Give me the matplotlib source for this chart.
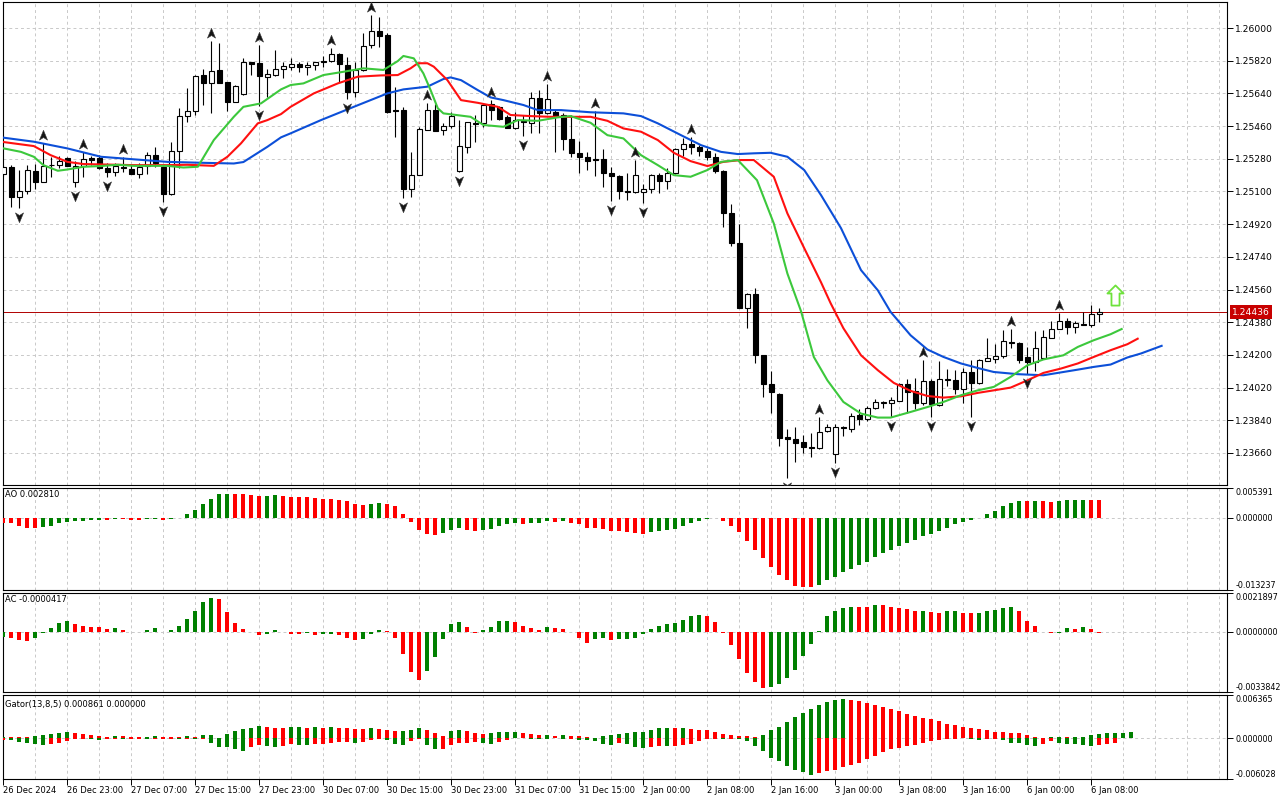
import numpy as np
import matplotlib
matplotlib.use("Agg")
import matplotlib.pyplot as plt
from matplotlib.path import Path
from matplotlib.transforms import offset_copy, blended_transform_factory

plt.rcParams['font.family'] = ['DejaVu Sans']

# ---------------- data (EURUSD-like H1 candles) ----------------
opens = [1.25196,1.25234,1.25069,1.25102,1.25212,1.25151,1.25248,1.25245,1.25284,1.25151,
         1.25240,1.25282,1.25284,1.25229,1.25207,1.25236,1.25223,1.25196,1.25240,1.25300,
         1.25234,1.25085,1.25322,1.25515,1.25543,1.25741,1.25697,1.25769,1.25702,1.25592,
         1.25636,1.25813,1.25807,1.25730,1.25741,1.25774,1.25785,1.25802,1.25785,1.25796,
         1.25818,1.25818,1.25857,1.25796,1.25647,1.25769,1.25906,1.25983,1.25961,1.25548,
         1.25548,1.25113,1.25190,1.25438,1.25548,1.25438,1.25460,1.25212,1.25344,1.25477,
         1.25477,1.25581,1.25565,1.25510,1.25449,1.25488,1.25477,1.25614,1.25532,1.25539,
         1.25521,1.25388,1.25311,1.25289,1.25278,1.25278,1.25201,1.25185,1.25102,1.25096,
         1.25096,1.25113,1.25190,1.25157,1.25201,1.25333,1.25361,1.25344,1.25322,1.25289,
         1.25212,1.24981,1.24815,1.24457,1.24534,1.24198,1.24038,1.23983,1.23746,1.23735,
         1.23719,1.23691,1.23686,1.23779,1.23653,1.23803,1.23790,1.23868,1.23846,1.23906,
         1.23934,1.23934,1.23945,1.24038,1.24000,1.23934,1.24055,1.23923,1.24060,1.24060,
         1.24011,1.24105,1.24044,1.24165,1.24176,1.24193,1.24270,1.24264,1.24187,1.24160,
         1.24182,1.24292,1.24341,1.24386,1.24353,1.24369,1.24364,1.24424]
highs = [1.25245,1.25245,1.25218,1.25245,1.25251,1.25366,1.25289,1.25295,1.25291,1.25267,
         1.25317,1.25295,1.25300,1.25256,1.25256,1.25289,1.25245,1.25256,1.25317,1.25344,
         1.25240,1.25372,1.25559,1.25669,1.25741,1.25774,1.25928,1.25917,1.25702,1.25686,
         1.25835,1.25813,1.25906,1.25774,1.25879,1.25813,1.25835,1.25813,1.25813,1.25814,
         1.25846,1.25890,1.25862,1.25840,1.25813,1.25972,1.26072,1.26061,1.25972,1.25675,
         1.25565,1.25317,1.25455,1.25587,1.25581,1.25477,1.25537,1.25493,1.25482,1.25521,
         1.25576,1.25603,1.25570,1.25521,1.25537,1.25521,1.25647,1.25658,1.25691,1.25548,
         1.25532,1.25521,1.25377,1.25317,1.25543,1.25333,1.25234,1.25190,1.25201,1.25273,
         1.25140,1.25196,1.25201,1.25229,1.25339,1.25394,1.25399,1.25355,1.25339,1.25311,
         1.25218,1.25030,1.24920,1.24540,1.24567,1.24198,1.24110,1.23989,1.23790,1.23802,
         1.23757,1.23768,1.23857,1.23818,1.23818,1.23807,1.23879,1.23901,1.23917,1.23956,
         1.23945,1.23967,1.24044,1.24066,1.24071,1.24171,1.24066,1.24165,1.24121,1.24116,
         1.24127,1.24171,1.24176,1.24292,1.24259,1.24336,1.24341,1.24270,1.24242,1.24330,
         1.24336,1.24386,1.24430,1.24402,1.24386,1.24435,1.24474,1.24457]
lows = [1.25185,1.25014,1.25008,1.25085,1.25113,1.25151,1.25179,1.25229,1.25240,1.25124,
        1.25179,1.25245,1.25223,1.25179,1.25185,1.25207,1.25196,1.25174,1.25196,1.25234,
        1.25041,1.25080,1.25229,1.25482,1.25521,1.25576,1.25532,1.25697,1.25543,1.25592,
        1.25631,1.25741,1.25570,1.25620,1.25736,1.25725,1.25769,1.25758,1.25741,1.25769,
        1.25785,1.25813,1.25702,1.25609,1.25620,1.25763,1.25890,1.25895,1.25532,1.25399,
        1.25063,1.25069,1.25190,1.25438,1.25432,1.25410,1.25449,1.25207,1.25311,1.25372,
        1.25455,1.25493,1.25493,1.25449,1.25444,1.25405,1.25421,1.25421,1.25526,1.25318,
        1.25328,1.25289,1.25201,1.25218,1.25185,1.25124,1.25047,1.25058,1.25052,1.25091,
        1.25036,1.25091,1.25091,1.25113,1.25196,1.25295,1.25306,1.25295,1.25273,1.25201,
        1.24904,1.24799,1.24457,1.24347,1.24154,1.23967,1.23879,1.23697,1.23520,1.23609,
        1.23658,1.23636,1.23680,1.23774,1.23603,1.23752,1.23774,1.23813,1.23835,1.23901,
        1.23906,1.23857,1.23945,1.23879,1.23901,1.23923,1.23857,1.23917,1.24027,1.23983,
        1.23934,1.23857,1.24038,1.24165,1.24154,1.24182,1.24237,1.24154,1.24094,1.24110,
        1.24182,1.24292,1.24341,1.24314,1.24319,1.24364,1.24353,1.24380]
closes = [1.25234,1.25069,1.25102,1.25218,1.25151,1.25240,1.25245,1.25267,1.25240,1.25240,
          1.25278,1.25274,1.25229,1.25207,1.25240,1.25227,1.25196,1.25234,1.25300,1.25256,
          1.25085,1.25322,1.25515,1.25543,1.25736,1.25697,1.25763,1.25697,1.25592,1.25680,
          1.25813,1.25802,1.25736,1.25747,1.25774,1.25791,1.25802,1.25785,1.25796,1.25813,
          1.25813,1.25857,1.25802,1.25647,1.25769,1.25901,1.25983,1.25956,1.25537,1.25543,
          1.25113,1.25190,1.25444,1.25548,1.25432,1.25460,1.25515,1.25350,1.25482,1.25471,
          1.25574,1.25548,1.25499,1.25449,1.25493,1.25482,1.25614,1.25532,1.25609,1.25517,
          1.25388,1.25311,1.25289,1.25267,1.25273,1.25201,1.25185,1.25102,1.25096,1.25190,
          1.25113,1.25190,1.25157,1.25201,1.25333,1.25361,1.25344,1.25322,1.25289,1.25212,
          1.24981,1.24815,1.24457,1.24534,1.24198,1.24038,1.23994,1.23741,1.23735,1.23713,
          1.23691,1.23686,1.23774,1.23802,1.23802,1.23800,1.23862,1.23846,1.23906,1.23939,
          1.23939,1.23950,1.24038,1.23994,1.23934,1.24055,1.23928,1.24066,1.24066,1.24011,
          1.24105,1.24044,1.24171,1.24182,1.24193,1.24275,1.24264,1.24171,1.24160,1.24237,
          1.24297,1.24341,1.24386,1.24353,1.24375,1.24364,1.24424,1.24436]

# Alligator lines (bar position, price)
jaw_x = [-0.3,3.8,8.0,12.2,16.3,20.5,24.7,28.8,30.0,33.0,34.7,35.9,39.7,43.8,48.0,50.0,53.0,55.0,55.9,57.2,
         59.3,60.9,62.5,65.0,66.8,69.7,73.4,77.5,79.7,81.8,84.7,87.2,89.7,91.8,93.8,95.9,98.0,100.1,102.2,104.7,
         107.2,109.3,110.9,113.4,115.5,117.5,119.7,121.8,123.8,126.8,130.0,132.5,134.3,136.3,138.4,140.5,142.2,144.9]
jaw_y = [1.25398,1.25374,1.25337,1.25291,1.25277,1.25263,1.25258,1.25254,1.25262,1.25346,1.25398,1.25420,1.25493,
         1.25566,1.25640,1.25662,1.25677,1.25719,1.25728,1.25713,1.25658,1.25618,1.25603,1.25576,1.25548,1.25548,
         1.25536,1.25530,1.25515,1.25475,1.25410,1.25355,1.25318,1.25306,1.25310,1.25313,1.25291,1.25218,1.25080,
         1.24898,1.24667,1.24556,1.24437,1.24308,1.24230,1.24189,1.24153,1.24128,1.24106,1.24094,1.24088,1.24106,
         1.24119,1.24134,1.24147,1.24186,1.24208,1.24252]
teeth_x = [-0.3,3.8,5.9,8.0,10.0,16.3,20.5,23.0,26.3,28.0,29.7,31.8,33.0,34.7,35.9,38.8,41.8,44.3,47.2,49.3,
           50.9,51.8,53.0,53.8,55.5,57.2,59.3,61.8,63.4,65.9,68.4,73.4,75.5,77.5,79.7,81.8,83.8,85.9,88.0,90.0,
           92.2,93.8,96.3,98.0,100.1,102.2,103.4,105.0,107.2,109.3,111.3,113.4,115.5,117.5,119.7,121.8,123.8,
           125.9,128.0,130.0,132.2,134.3,136.3,138.4,140.5,141.9]
teeth_y = [1.25374,1.25350,1.25300,1.25263,1.25251,1.25245,1.25245,1.25247,1.25241,1.25291,1.25365,1.25475,
           1.25493,1.25526,1.25566,1.25640,1.25695,1.25732,1.25739,1.25741,1.25778,1.25806,1.25806,1.25787,
           1.25713,1.25603,1.25588,1.25566,1.25521,1.25515,1.25511,1.25511,1.25489,1.25447,1.25429,1.25383,
           1.25313,1.25267,1.25240,1.25263,1.25273,1.25273,1.25181,1.24979,1.24788,1.24600,1.24485,1.24347,
           1.24198,1.24116,1.24046,1.24002,1.23974,1.23965,1.23972,1.23991,1.24005,1.24020,1.24060,1.24101,
           1.24125,1.24153,1.24189,1.24226,1.24259,1.24292]
lips_x = [-0.3,2.2,3.8,5.0,6.8,8.0,10.0,12.2,14.3,16.3,20.5,22.5,24.3,26.3,28.8,30.0,32.2,34.7,35.9,37.5,
          40.0,42.5,45.0,47.5,49.3,50.0,51.3,52.5,53.4,54.3,55.0,58.4,60.0,62.5,64.3,66.8,69.3,70.9,73.4,75.5,
          77.5,79.7,81.8,83.8,85.9,88.0,89.7,91.8,94.2,96.3,98.0,99.7,101.3,103.0,105.0,107.2,109.3,110.9,113.4,
          115.5,117.5,119.7,121.8,123.8,125.9,128.0,130.0,132.5,134.3,136.3,138.4,139.9]
lips_y = [1.25340,1.25318,1.25291,1.25245,1.25214,1.25221,1.25236,1.25240,1.25247,1.25241,1.25241,1.25232,
          1.25236,1.25383,1.25511,1.25566,1.25585,1.25662,1.25686,1.25695,1.25741,1.25759,1.25778,1.25769,
          1.25818,1.25846,1.25833,1.25750,1.25658,1.25558,1.25530,1.25511,1.25466,1.25456,1.25493,1.25489,
          1.25508,1.25515,1.25478,1.25410,1.25392,1.25300,1.25245,1.25190,1.25181,1.25218,1.25263,1.25273,
          1.25162,1.24924,1.24648,1.24441,1.24189,1.24060,1.23941,1.23877,1.23855,1.23855,1.23886,1.23913,
          1.23941,1.23978,1.24005,1.24024,1.24079,1.24143,1.24175,1.24198,1.24244,1.24281,1.24314,1.24345]

# Fractals (bar indices)
fractal_up = [5,10,15,26,32,41,46,53,61,68,74,79,86,102,115,126,132]
fractal_dn = [2,9,13,20,32,43,50,57,65,76,80,98,104,111,116,121,128]
signal_bar, signal_price = 139, 1.24530

# Awesome oscillator (x1e-3)
ao_e3 = [-0.93,-1.06,-1.46,-1.86,-1.93,-1.66,-1.46,-1.06,-0.86,-0.67,
         -0.60,-0.47,-0.40,-0.47,-0.27,-0.33,-0.47,-0.50,-0.33,-0.27,
         -0.40,-0.27,-0.13,0.67,1.46,2.46,3.46,4.26,4.32,4.26,
         4.22,4.06,3.86,3.89,4.06,3.86,3.79,3.72,3.66,3.52,
         3.39,3.33,3.19,2.93,2.46,2.26,2.46,2.66,2.46,2.06,
         0.67,-0.86,-2.26,-3.06,-3.26,-2.86,-2.26,-2.00,-2.26,-2.46,
         -2.26,-2.06,-1.46,-1.26,-1.06,-1.13,-1.06,-0.93,-0.67,-0.86,
         -0.67,-0.93,-1.26,-1.86,-1.93,-2.06,-2.46,-2.49,-2.66,-2.86,
         -2.93,-2.66,-2.46,-2.26,-2.06,-1.46,-1.06,-0.67,-0.27,-0.07,
         -0.67,-1.46,-2.66,-4.26,-5.85,-7.45,-9.04,-10.44,-11.44,-12.44,
         -12.64,-12.70,-12.24,-11.44,-10.84,-10.04,-9.44,-8.65,-8.05,-7.25,
         -6.45,-5.85,-5.25,-4.66,-4.06,-3.46,-3.06,-2.46,-1.86,-1.26,
         -0.86,-0.47,-0.13,0.67,1.26,2.06,2.66,3.06,3.03,3.06,
         3.03,2.86,3.06,3.26,3.27,3.29,3.26,3.25]
# Accelerator oscillator (x1e-3)
ac_e3 = [-0.26,-0.32,-0.45,-0.51,-0.32,-0.08,0.24,0.51,0.63,0.45,
         0.32,0.26,0.25,0.14,0.20,0.08,-0.02,-0.03,0.08,0.20,
         -0.02,0.08,0.32,0.75,1.18,1.66,1.91,1.85,1.12,0.51,
         0.14,-0.02,-0.20,-0.14,0.08,-0.01,-0.12,-0.14,-0.08,-0.20,
         -0.14,-0.12,-0.20,-0.32,-0.45,-0.39,-0.14,0.08,0.04,-0.32,
         -1.24,-2.27,-2.70,-2.21,-1.42,-0.39,0.45,0.57,0.26,-0.04,
         0.08,0.26,0.63,0.64,0.57,0.32,0.20,0.08,0.26,0.20,
         0.19,-0.02,-0.32,-0.63,-0.39,-0.37,-0.45,-0.39,-0.38,-0.32,
         -0.14,0.14,0.32,0.45,0.51,0.69,0.87,0.93,0.87,0.57,
         -0.04,-0.75,-1.54,-2.33,-2.82,-3.15,-3.13,-2.94,-2.58,-2.15,
         -1.36,-0.69,0.06,0.87,1.18,1.36,1.42,1.41,1.40,1.54,
         1.53,1.42,1.36,1.30,1.18,1.19,1.12,1.06,1.18,1.19,
         1.06,1.05,1.06,1.18,1.24,1.36,1.42,1.18,0.63,0.32,
         0.01,-0.08,-0.04,0.20,0.18,0.26,0.14,-0.04]
# Gator oscillator (x1e-3): upper |jaw-teeth|, lower |teeth-lips|
gator_up_e3 = [0.22,0.22,0.16,0.11,0.32,0.49,0.65,0.81,0.97,0.76,
               0.59,0.43,0.27,0.22,0.27,0.26,0.24,0.22,0.24,0.27,
               0.22,0.16,0.11,0.25,0.20,0.40,0.41,0.02,0.55,1.01,
               1.31,1.46,1.76,1.61,1.46,1.44,1.61,1.64,1.46,1.61,
               1.46,1.61,1.46,1.44,1.41,1.31,1.46,1.31,1.16,1.01,
               1.06,1.16,1.46,1.16,0.71,0.25,1.01,1.16,1.01,0.71,
               0.68,0.71,0.86,0.88,0.91,0.71,0.55,0.40,0.43,0.32,
               0.43,0.32,0.27,0.11,0.02,0.27,0.43,0.65,0.81,0.84,
               0.97,1.13,1.46,1.49,1.46,1.49,1.40,1.24,1.19,0.92,
               0.65,0.49,0.32,0.27,0.16,0.49,1.13,1.62,2.43,3.08,
               3.78,4.37,4.86,5.35,5.62,5.83,5.62,5.45,5.18,4.86,
               4.64,4.37,4.00,3.56,3.29,2.97,2.81,2.59,2.16,1.94,
               1.67,1.51,1.35,1.19,0.97,0.92,0.81,0.70,0.49,0.16,
               0.05,0.16,0.17,0.11,0.16,0.17,0.49,0.59,0.70,0.76,
               0.81,0.86]
gator_dn_e3 = [0.22,0.32,0.54,0.65,0.81,0.97,0.92,0.76,0.43,0.16,
               0.11,0.16,0.27,0.11,0.11,0.16,0.11,0.10,0.16,0.11,
               0.10,0.09,0.11,0.10,0.20,0.10,0.76,1.26,1.36,1.56,
               1.86,1.36,1.06,1.21,1.36,1.21,0.91,1.06,1.08,0.91,
               0.88,0.76,0.60,0.58,0.76,0.60,0.30,0.15,0.30,0.91,
               0.96,0.45,0.15,1.06,1.66,1.61,1.06,0.76,0.71,0.60,
               0.76,0.86,0.60,0.30,0.05,0.02,0.15,0.18,0.20,0.05,
               0.11,0.10,0.27,0.32,0.49,0.81,0.97,0.65,0.81,1.30,
               1.46,1.30,1.13,1.16,1.13,0.97,0.81,0.49,0.16,0.11,
               0.16,0.11,0.16,0.49,1.13,1.94,2.92,3.40,4.05,4.70,
               5.02,5.51,5.18,4.86,4.70,4.21,3.89,3.73,3.08,2.59,
               2.11,1.62,1.46,1.13,0.97,0.65,0.49,0.32,0.16,0.11,
               0.05,0.11,0.32,0.16,0.15,0.32,0.65,0.66,0.97,1.13,
               0.81,0.49,0.65,0.81,0.82,0.97,1.13,0.97,0.81,0.65,
               0.0,0.0]

date_ticks = list(range(0, 137, 8))
date_labels = ["26 Dec 2024", "26 Dec 23:00", "27 Dec 07:00", "27 Dec 15:00", "27 Dec 23:00",
               "30 Dec 07:00", "30 Dec 15:00", "30 Dec 23:00", "31 Dec 07:00", "31 Dec 15:00",
               "2 Jan 00:00", "2 Jan 08:00", "2 Jan 16:00", "3 Jan 00:00", "3 Jan 08:00",
               "3 Jan 16:00", "6 Jan 00:00", "6 Jan 08:00"]
price_ticks = [1.23660, 1.23840, 1.24020, 1.24200, 1.24380, 1.24560, 1.24740, 1.24920,
               1.25100, 1.25280, 1.25460, 1.25640, 1.25820, 1.26000]
ao_scale = (-0.013237, 0.005391)
ac_scale = (-0.0033842, 0.0021897)
gator_scale = (-0.006028, 0.006365)

# ---------------- figure ----------------
W, H = 1280, 800
fig = plt.figure(figsize=(W / 100, H / 100), dpi=100)
fig.patch.set_facecolor('white')

def ax_px(l, t, r, b):
    return fig.add_axes([l / W, 1 - b / H, (r - l) / W, (b - t) / H])

ax = ax_px(3, 2, 1227, 485)
ax_ao = ax_px(3, 488, 1227, 590)
ax_ac = ax_px(3, 593, 1227, 692)
ax_g = ax_px(3, 695, 1227, 779)
axes = [ax, ax_ao, ax_ac, ax_g]

GRID = '#c9c9c9'
GREEN = '#008000'
RED = '#ff0000'
XMIN, XMAX = -0.05, 152.95

for a in axes:
    a.set_xlim(XMIN, XMAX)
    for s in a.spines.values():
        s.set_linewidth(0.8)
        s.set_color('black')
    for b in range(4, 153, 4):
        a.axvline(b, color=GRID, lw=0.7, ls=(0, (3, 3)), zorder=0)
    a.yaxis.tick_right()
    a.tick_params(axis='y', direction='out', length=4, width=0.7, pad=2, labelsize=6.6)
    a.tick_params(axis='x', length=0, labelbottom=False)

# ---- main chart ----
o = np.array(opens); h = np.array(highs); l = np.array(lows); c = np.array(closes)
x = np.arange(len(o))
ax.set_ylim(1.234838, 1.261432)
for p in price_ticks:
    ax.axhline(p, color=GRID, lw=0.7, ls=(0, (3, 3)), zorder=0)
ax.set_yticks(price_ticks)
ax.set_yticklabels([f"{p:.5f}" for p in price_ticks])

ax.vlines(x, l, h, color='black', lw=0.8, zorder=3)
bull = c >= o
ax.bar(x, np.abs(c - o), width=0.62, bottom=np.minimum(o, c),
       color=np.where(bull, 'white', 'black'), edgecolor='black', linewidth=0.8, zorder=4)

ax.plot(jaw_x, jaw_y, color='#0c4fd8', lw=1.5, zorder=5, solid_capstyle='butt')
ax.plot(teeth_x, teeth_y, color='#ff1010', lw=1.5, zorder=5, solid_capstyle='butt')
ax.plot(lips_x, lips_y, color='#3cc83c', lw=1.5, zorder=5, solid_capstyle='butt')

# current price line and tag
ax.axhline(c[-1], color='#b00000', lw=0.7, zorder=2)
tr = blended_transform_factory(ax.transAxes, ax.transData)
ax.text(1.0 + 5 / 1224, c[-1], f"{c[-1]:.5f}", transform=tr, color='white', fontsize=6.6,
        va='center', ha='left', clip_on=False, zorder=10,
        bbox=dict(boxstyle='square,pad=0.25', fc='#c80000', ec='none'))

# fractal arrows
up_path = Path([(0, 0.9), (0.7, -0.8), (0, -0.35), (-0.7, -0.8), (0, 0.9)],
               [Path.MOVETO, Path.LINETO, Path.LINETO, Path.LINETO, Path.CLOSEPOLY])
dn_path = Path([(0, -0.9), (0.7, 0.8), (0, 0.35), (-0.7, 0.8), (0, -0.9)],
               [Path.MOVETO, Path.LINETO, Path.LINETO, Path.LINETO, Path.CLOSEPOLY])
tr_up = offset_copy(ax.transData, fig=fig, x=0, y=8, units='dots')
tr_dn = offset_copy(ax.transData, fig=fig, x=0, y=-8.5, units='dots')
ax.plot(fractal_up, h[fractal_up], ls='none', marker=up_path, ms=7.5, mfc='#151515',
        mec='#3a3a3a', mew=0.4, transform=tr_up, zorder=6)
ax.plot(fractal_dn, l[fractal_dn], ls='none', marker=dn_path, ms=7.5, mfc='#151515',
        mec='#3a3a3a', mew=0.4, transform=tr_dn, zorder=6)

# signal arrow
big_up = Path([(0, 1), (0.8, 0.2), (0.4, 0.2), (0.4, -1), (-0.4, -1), (-0.4, 0.2), (-0.8, 0.2), (0, 1)],
              [Path.MOVETO] + [Path.LINETO] * 6 + [Path.CLOSEPOLY])
ax.plot([signal_bar], [signal_price], ls='none', marker=big_up, ms=14.5, mfc='white',
        mec='#6ee23c', mew=1.3, zorder=6)

# ---- indicator panels ----
def updown(vals, first):
    cols = [first]
    for a0, a1 in zip(vals[:-1], vals[1:]):
        cols.append(GREEN if a1 > a0 else RED)
    return cols

def setup_panel(a, lims, fmt, title, title_y):
    a.set_ylim(*lims)
    a.axhline(0, color=GRID, lw=0.7, ls=(0, (3, 3)), zorder=1)
    a.set_yticks([lims[1], 0, lims[0]])
    labels = a.set_yticklabels([fmt.format(lims[1]), fmt.format(0.0), fmt.format(lims[0])])
    labels[0].set_va('top')
    labels[2].set_va('bottom')
    a.tick_params(axis='y', labelsize=5.8)
    fig.text(5 / W, 1 - title_y / H, title, fontsize=6.0, va='center', ha='left')

ao = np.array(ao_e3) * 1e-3
ax_ao.bar(np.arange(len(ao)), ao, width=0.5, color=updown(ao, RED), zorder=3)
setup_panel(ax_ao, ao_scale, "{:.6f}", "AO 0.002810", 494)

ac = np.array(ac_e3) * 1e-3
ax_ac.bar(np.arange(len(ac)), ac, width=0.5, color=updown(ac, GREEN), zorder=3)
setup_panel(ax_ac, ac_scale, "{:.7f}", "AC -0.0000417", 600)

gu = np.array(gator_up_e3) * 1e-3
gd = np.array(gator_dn_e3) * 1e-3
xg = np.arange(len(gu))
ax_g.bar(xg, gu, width=0.5, color=updown(gu, GREEN), zorder=3)
ax_g.bar(xg, -gd, width=0.5, color=updown(gd, RED), zorder=3)
setup_panel(ax_g, gator_scale, "{:.6f}", "Gator(13,8,5) 0.000861 0.000000", 704)

ax_g.set_xticks(date_ticks)
ax_g.set_xticklabels(date_labels)
ax_g.tick_params(axis='x', length=4, width=0.7, direction='out', pad=1, labelsize=6.0, labelbottom=True)
for lbl in ax_g.get_xticklabels():
    lbl.set_ha('left')

fig.savefig('out.png', dpi=100, facecolor='white')
